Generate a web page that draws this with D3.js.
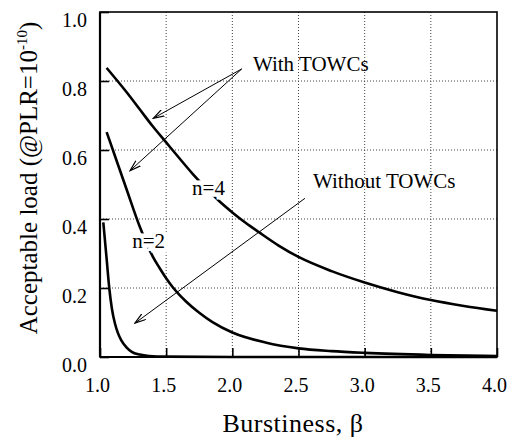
<!DOCTYPE html>
<html>
<head>
<meta charset="utf-8">
<script src="https://cdn.jsdelivr.net/npm/d3@7"></script>
<style>
  body { margin: 0; background: #fff; }
  svg text { font-family: "Liberation Serif", "Times New Roman", serif !important; }
</style>
</head>
<body>
<svg id="chart" width="509" height="441"></svg>
<script>
// data
var xTicks = [1.0, 1.5, 2.0, 2.5, 3.0, 3.5, 4.0];
var yTicks = [0.0, 0.2, 0.4, 0.6, 0.8, 1.0];

// with TOWCs, n=4
var n4Beta = [1.05, 1.2, 1.3, 1.4, 1.5, 1.6, 1.7, 1.8, 1.9, 2.0, 2.1, 2.2, 2.35, 2.5, 2.75, 3.0, 3.25, 3.5, 3.75, 4.0];
var n4Load = [0.838, 0.768, 0.718, 0.668, 0.622, 0.576, 0.531, 0.49, 0.452, 0.419, 0.389, 0.362, 0.323, 0.29, 0.249, 0.216, 0.188, 0.165, 0.148, 0.134];

// with TOWCs, n=2
var n2Beta = [1.05, 1.1, 1.2, 1.3, 1.4, 1.45, 1.5, 1.55, 1.6, 1.65, 1.75, 1.85, 2.0, 2.25, 2.5, 2.75, 3.0, 3.5, 4.0];
var n2Load = [0.652, 0.597, 0.487, 0.378, 0.29, 0.258, 0.228, 0.202, 0.18, 0.161, 0.128, 0.101, 0.071, 0.042, 0.025, 0.017, 0.012, 0.006, 0.003];

// without TOWCs
var noBeta = [1.025, 1.05, 1.07, 1.09, 1.113, 1.135, 1.16, 1.2, 1.24, 1.3, 1.37, 1.5, 2.0, 3.0, 4.0];
var noLoad = [0.39, 0.285, 0.2, 0.14, 0.097, 0.07, 0.049, 0.028, 0.015, 0.007, 0.003, 0.001, 0, 0, 0];

var margin = {top: 12, right: 12, bottom: 84, left: 100},
    width = 509 - margin.left - margin.right,
    height = 441 - margin.top - margin.bottom;

var svg = d3.select("#chart");

var x = d3.scaleLinear().domain([1, 4]).range([0, width]);
var y = d3.scaleLinear().domain([0, 1]).range([height, 0]);

var g = svg.append("g")
    .attr("transform", "translate(" + margin.left + "," + margin.top + ")");

svg.append("defs").append("marker")
    .attr("id", "arrow")
    .attr("viewBox", "0 0 12 8")
    .attr("refX", 11)
    .attr("refY", 4)
    .attr("markerWidth", 12)
    .attr("markerHeight", 8)
    .attr("markerUnits", "userSpaceOnUse")
    .attr("orient", "auto")
    .append("path")
    .attr("d", "M0,0.5 L11,4 L0,7.5")
    .attr("fill", "none")
    .attr("stroke", "#000")
    .attr("stroke-width", 1.2);

// dotted grid
g.append("g").selectAll("line")
    .data(xTicks.slice(1, -1))
    .enter().append("line")
    .attr("x1", function (d) { return x(d); })
    .attr("x2", function (d) { return x(d); })
    .attr("y1", 0)
    .attr("y2", height)
    .attr("stroke", "#444")
    .attr("stroke-width", 1)
    .attr("stroke-dasharray", "1,2");

g.append("g").selectAll("line")
    .data(yTicks.slice(1, -1))
    .enter().append("line")
    .attr("x1", 0)
    .attr("x2", width)
    .attr("y1", function (d) { return y(d); })
    .attr("y2", function (d) { return y(d); })
    .attr("stroke", "#444")
    .attr("stroke-width", 1)
    .attr("stroke-dasharray", "1,2");

// curves
var line = d3.line()
    .x(function (d) { return x(d[0]); })
    .y(function (d) { return y(d[1]); })
    .curve(d3.curveMonotoneX);

[[noBeta, noLoad], [n2Beta, n2Load], [n4Beta, n4Load]].forEach(function (s) {
    g.append("path")
        .datum(d3.zip(s[0], s[1]))
        .attr("d", line)
        .attr("fill", "none")
        .attr("stroke", "#000")
        .attr("stroke-width", 2.6);
});

// arrows
var arrows = [
    [[2.071, 0.835], [1.403, 0.692]],
    [[2.071, 0.835], [1.227, 0.540]],
    [[2.549, 0.460], [1.264, 0.098]]
];
g.append("g").selectAll("line")
    .data(arrows)
    .enter().append("line")
    .attr("x1", function (d) { return x(d[0][0]); })
    .attr("y1", function (d) { return y(d[0][1]); })
    .attr("x2", function (d) { return x(d[1][0]); })
    .attr("y2", function (d) { return y(d[1][1]); })
    .attr("stroke", "#000")
    .attr("stroke-width", 1)
    .attr("marker-end", "url(#arrow)");

// annotations
var notes = [
    {t: "With TOWCs", bx: 2.156, by: 0.829, anchor: "start", halo: false},
    {t: "Without TOWCs", bx: 2.61, by: 0.49, anchor: "start", halo: false},
    {t: "n=4", bx: 1.82, by: 0.47, anchor: "middle", halo: true},
    {t: "n=2", bx: 1.367, by: 0.316, anchor: "middle", halo: true}
];
g.append("g").selectAll("text")
    .data(notes)
    .enter().append("text")
    .text(function (d) { return d.t; })
    .attr("x", function (d) { return x(d.bx); })
    .attr("y", function (d) { return y(d.by); })
    .attr("text-anchor", function (d) { return d.anchor; })
    .attr("font-size", 21)
    .attr("fill", "#000")
    .attr("stroke", function (d) { return d.halo ? "#fff" : "none"; })
    .attr("stroke-width", 9)
    .attr("paint-order", "stroke");

// frame
g.append("rect")
    .attr("width", width)
    .attr("height", height)
    .attr("fill", "none")
    .attr("stroke", "#000")
    .attr("stroke-width", 1.6);
g.append("line").attr("x1", 0).attr("x2", 0).attr("y1", 0).attr("y2", height)
    .attr("stroke", "#000").attr("stroke-width", 2.2);
g.append("line").attr("x1", 0).attr("x2", width).attr("y1", height).attr("y2", height)
    .attr("stroke", "#000").attr("stroke-width", 2.2);

// axes with inward ticks
var xAxis = g.append("g")
    .attr("transform", "translate(0," + height + ")")
    .call(d3.axisBottom(x).tickValues(xTicks).tickSizeInner(-9).tickSizeOuter(0)
        .tickFormat(d3.format(".1f")));
var yAxis = g.append("g")
    .call(d3.axisLeft(y).tickValues(yTicks).tickSizeInner(-9).tickSizeOuter(0)
        .tickFormat(d3.format(".1f")));

[xAxis, yAxis].forEach(function (a) {
    a.attr("font-family", null).attr("font-size", null);
    a.select(".domain").remove();
    a.selectAll(".tick line").attr("stroke", "#000").attr("stroke-width", 1.6);
    a.selectAll(".tick text")
        .style("font-size", "20px")
        .attr("fill", "#000");
});
xAxis.selectAll(".tick text").attr("y", 0).attr("dy", 35).attr("dx", -3);
yAxis.selectAll(".tick text").attr("x", -13).attr("dy", 14);

// axis titles
svg.append("text")
    .attr("x", 293)
    .attr("y", 432)
    .attr("text-anchor", "middle")
    .style("font-size", "26px")
    .style("letter-spacing", "0.5px")
    .text("Burstiness,  \u03b2");

var yt = svg.append("text")
    .attr("transform", "translate(37,178) rotate(-90)")
    .attr("text-anchor", "middle")
    .style("font-size", "25px");
yt.append("tspan").text("Acceptable load  (@PLR=10");
yt.append("tspan").attr("dy", -10).style("font-size", "15px").text("-10");
yt.append("tspan").attr("dy", 10).text(")");
</script>
</body>
</html>
